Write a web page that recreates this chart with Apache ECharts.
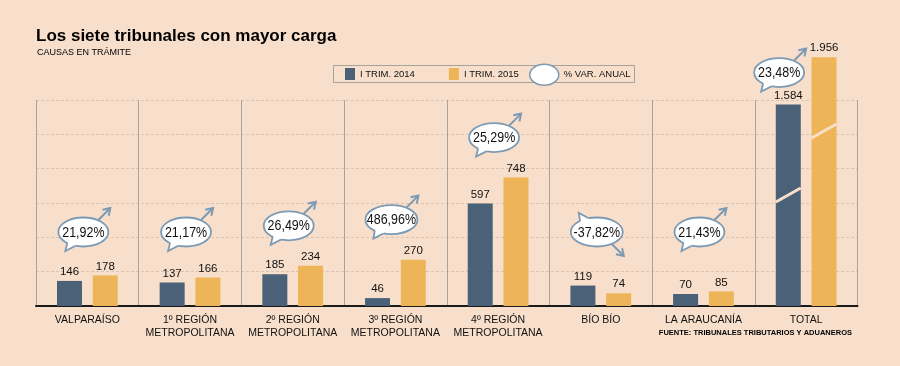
<!DOCTYPE html>
<html><head><meta charset="utf-8">
<script src="https://cdn.jsdelivr.net/npm/echarts@6/dist/echarts.min.js"></script>
<style>html,body{margin:0;padding:0;background:#f8dfcc;} #c{width:900px;height:366px;}</style>
</head><body><div id="c"></div>
<script>
// ---- data ----
const categories = ['VALPARAÍSO', '1º REGIÓN\nMETROPOLITANA', '2º REGIÓN\nMETROPOLITANA', '3º REGIÓN\nMETROPOLITANA', '4º REGIÓN\nMETROPOLITANA', 'BÍO BÍO', 'LA ARAUCANÍA', 'TOTAL'];
const trim2014 = [146, 137, 185, 46, 597, 119, 70];
const trim2015 = [178, 166, 234, 270, 748, 74, 85];
const total2014 = 1584;
const total2015 = 1956;
const variation = [21.92, 21.17, 26.49, 486.96, 25.29, -37.82, 21.43, 23.48];
const seriesNames = ['I TRIM. 2014', 'I TRIM. 2015', '% VAR. ANUAL'];
const breakMarks = [873, 1376]; // where the "cut" stroke crosses each TOTAL bar

// ---- style ----
const FONT = '"Liberation Sans", Arial, sans-serif';
const BG = '#f8dfcc';
const C14 = '#4a6178', C15 = '#eeb458', BUB = '#7d9ab3';
const BAR_W = 25, GAP_PCT = 0.43;
const HALF_OFF = (BAR_W + BAR_W * GAP_PCT) / 2;
const n = categories.length;

function fmt(v) { return String(v).replace(/\B(?=(\d{3})+(?!\d))/g, '.'); }
const pad = arr => arr.concat(['-']);
const onlyTotal = v => categories.map((c, i) => i === n - 1 ? v : '-');

const labelCfg = {show: true, position: 'top', distance: 3, fontFamily: FONT, fontSize: 11.5, color: '#111',
  formatter: p => fmt(p.value)};

function makeBubble(isTotal) {
  return function (params, api) {
    const i = api.value(0), top = api.value(1), pct = api.value(2);
    const tp = api.coord([i, top]);
    let cx, cy;
    if (isTotal) { cx = tp[0] - 27; cy = tp[1] - 32; }
    else {
      const base = api.coord([i, 0]);
      cx = base[0] - 4; cy = Math.min(tp[1] - 40, base[1] - 74);
    }
    const s = pct < 0 ? -1 : 1;
    const txt = pct.toFixed(2).replace('.', ',') + '%';
    const rx = txt.length > 6 ? 26 : 25, ry = 14.5;
    const a1 = 108 * Math.PI / 180, a2 = 130 * Math.PI / 180;
    const pt = (a, k) => [cx + k * rx * Math.cos(a), cy + s * k * ry * Math.sin(a)];
    const tip = [cx - 18, cy + s * 19];
    const as = [cx + 15, cy - s * 12], ae = [cx + 27, cy - s * 24];
    const dx = ae[0] - as[0], dy = ae[1] - as[1], L = Math.hypot(dx, dy);
    const ux = -dx / L, uy = -dy / L, ang = 33 * Math.PI / 180, hl = 8;
    const rot = (x, y, t) => [x * Math.cos(t) - y * Math.sin(t), x * Math.sin(t) + y * Math.cos(t)];
    const h1 = rot(ux, uy, ang), h2 = rot(ux, uy, -ang);
    return {
      type: 'group',
      children: [
        {type: 'ellipse', shape: {cx, cy, rx, ry}, style: {fill: '#fff', stroke: BUB, lineWidth: 1.8}},
        {type: 'polygon', shape: {points: [pt(a1, 0.75), pt(a1, 1), tip, pt(a2, 1), pt(a2, 0.75)]}, style: {fill: '#fff'}},
        {type: 'polyline', shape: {points: [pt(a1, 1), tip, pt(a2, 1)]}, style: {fill: null, stroke: BUB, lineWidth: 1.8}},
        {type: 'line', shape: {x1: as[0], y1: as[1], x2: ae[0], y2: ae[1]}, style: {stroke: BUB, lineWidth: 2}},
        {type: 'polyline', shape: {points: [[ae[0] + h1[0] * hl, ae[1] + h1[1] * hl], ae, [ae[0] + h2[0] * hl, ae[1] + h2[1] * hl]]},
          style: {fill: null, stroke: BUB, lineWidth: 2}},
        {type: 'text', x: cx, y: cy + 0.5, scaleX: 0.83,
          style: {x: 0, y: 0, text: txt, fill: '#111', fontSize: 15, fontFamily: FONT, align: 'center', verticalAlign: 'middle'}}
      ]
    };
  };
}

function breakLine(params, api) {
  const p = api.coord([api.value(0), api.value(1)]);
  const xc = p[0] + api.value(2) * HALF_OFF;
  return {type: 'line', shape: {x1: xc - BAR_W / 2, y1: p[1] + 7, x2: xc + BAR_W / 2, y2: p[1] - 7},
    style: {stroke: BG, lineWidth: 3}};
}

const bubbleData = trim2014.map((v, i) => [i, Math.max(v, trim2015[i]), variation[i]]);

const chart = echarts.init(document.getElementById('c'), null, {renderer: 'canvas'});
chart.setOption({
  backgroundColor: BG,
  animation: false,
  textStyle: {fontFamily: FONT},
  title: [
    {text: 'Los siete tribunales con mayor carga', left: 36, top: 28, padding: 0,
      textStyle: {fontFamily: FONT, fontWeight: 'bold', fontSize: 17, color: '#000'}},
    {text: 'CAUSAS EN TRÁMITE', left: 37, top: 48.5, padding: 0,
      textStyle: {fontFamily: FONT, fontWeight: 'normal', fontSize: 9, color: '#000'}},
    {text: 'FUENTE: TRIBUNALES TRIBUTARIOS Y ADUANEROS', right: 48, top: 329, padding: 0,
      textStyle: {fontFamily: FONT, fontWeight: 'bold', fontSize: 7.5, color: '#000'}}
  ],
  graphic: [
    {type: 'rect', z: 0, silent: true, shape: {x: 333.5, y: 65.5, width: 301, height: 17},
      style: {fill: 'none', stroke: '#a8a29d', lineWidth: 1}}
  ],
  legend: [
    {left: 345, top: 68, padding: 0, itemWidth: 10, itemHeight: 12, itemGap: 34, icon: 'rect',
      data: [seriesNames[0], seriesNames[1]],
      textStyle: {fontFamily: FONT, fontSize: 9.5, color: '#111'}},
    {left: 529, top: 63.5, padding: 0, itemWidth: 29, itemHeight: 21,
      data: [{name: seriesNames[2], icon: 'path://M0,10.5A14.5,10.5 0 1,1 29,10.5A14.5,10.5 0 1,1 0,10.5Z',
        itemStyle: {color: '#fff', borderColor: BUB, borderWidth: 1.5}}],
      textStyle: {fontFamily: FONT, fontSize: 9.5, color: '#111'}}
  ],
  grid: {left: 36, right: 42.5, top: 100, bottom: 60},
  xAxis: [
    {type: 'category', data: categories,
      axisLine: {lineStyle: {color: '#1a1a1a', width: 2}}, axisTick: {show: false},
      axisLabel: {interval: 0, fontFamily: FONT, fontSize: 10.5, color: '#111', lineHeight: 13, margin: 8},
      splitLine: {show: true, interval: 0, lineStyle: {color: '#aaa39d', width: 1}}},
    {type: 'category', data: categories, show: false}
  ],
  yAxis: [
    {type: 'value', min: 0, max: 1200, interval: 200,
      axisLabel: {show: false}, axisLine: {show: false}, axisTick: {show: false},
      splitLine: {lineStyle: {color: '#dcc4b2', type: [3, 2], width: 1}}},
    {type: 'value', min: 0, max: 1620, show: false, splitLine: {show: false}}
  ],
  series: [
    {name: seriesNames[0], type: 'bar', data: pad(trim2014), barWidth: BAR_W, barGap: (GAP_PCT * 100) + '%',
      itemStyle: {color: C14}, label: labelCfg},
    {name: seriesNames[1], type: 'bar', data: pad(trim2015), barWidth: BAR_W, barGap: (GAP_PCT * 100) + '%',
      itemStyle: {color: C15}, label: labelCfg},
    {name: seriesNames[0], type: 'bar', xAxisIndex: 1, yAxisIndex: 1, data: onlyTotal(total2014), clip: false,
      barWidth: BAR_W, barGap: (GAP_PCT * 100) + '%', itemStyle: {color: C14}, label: labelCfg},
    {name: seriesNames[1], type: 'bar', xAxisIndex: 1, yAxisIndex: 1, data: onlyTotal(total2015), clip: false,
      barWidth: BAR_W, barGap: (GAP_PCT * 100) + '%', itemStyle: {color: C15}, label: labelCfg},
    {name: 'corte', type: 'custom', xAxisIndex: 1, yAxisIndex: 1, z: 5, silent: true,
      data: [[n - 1, breakMarks[0], -1], [n - 1, breakMarks[1], 1]], renderItem: breakLine},
    {name: seriesNames[2], type: 'custom', z: 10, silent: true, data: bubbleData, renderItem: makeBubble(false)},
    {name: seriesNames[2], type: 'custom', xAxisIndex: 1, yAxisIndex: 1, z: 10, silent: true,
      data: [[n - 1, total2014, variation[n - 1]]], renderItem: makeBubble(true)}
  ]
});
</script>
</body></html>
